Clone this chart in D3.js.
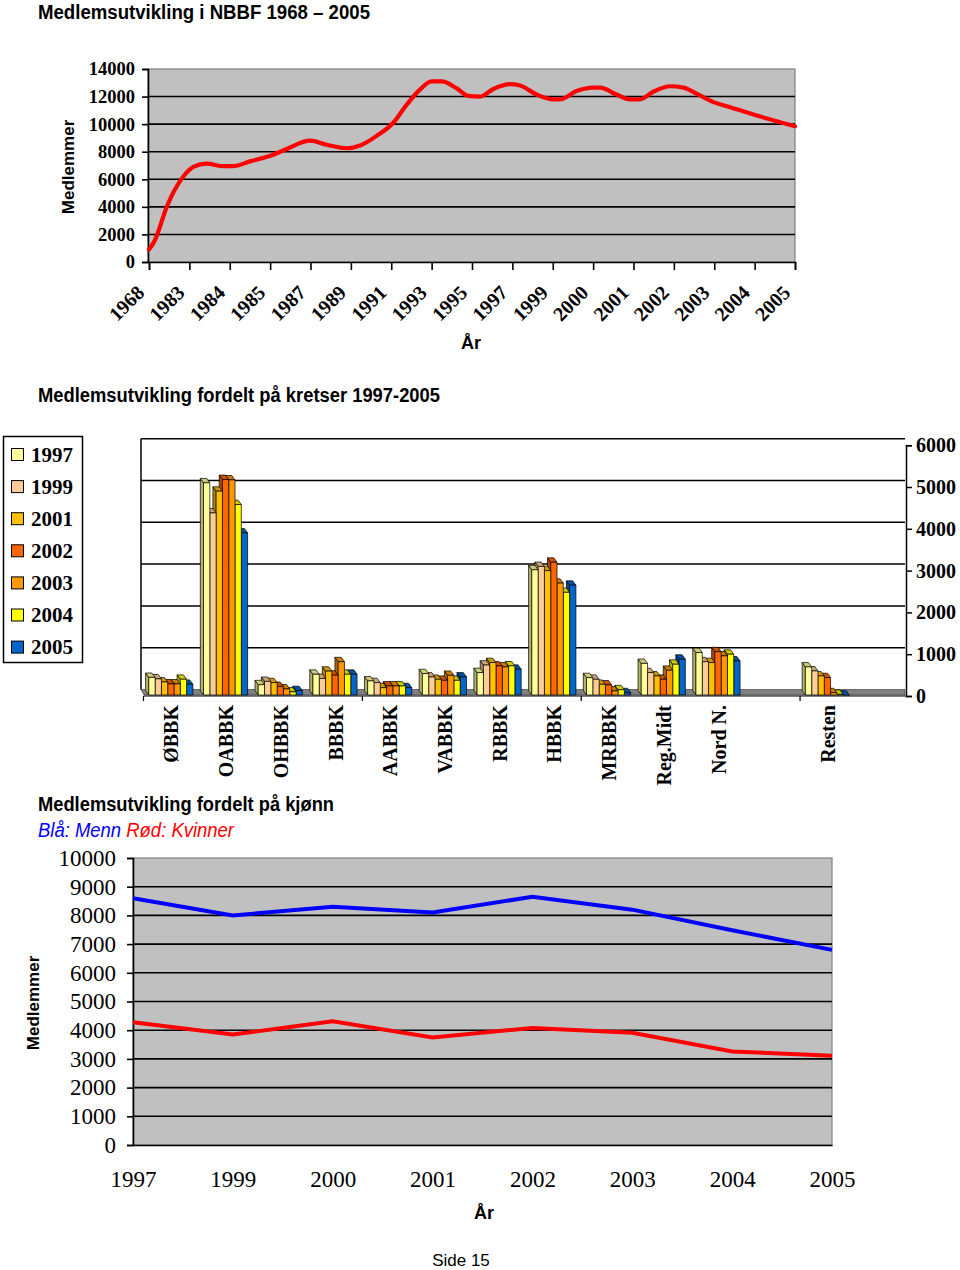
<!DOCTYPE html>
<html><head><meta charset="utf-8">
<script src="https://cdn.jsdelivr.net/npm/d3@7"></script>
<style>body{margin:0;background:#fff} svg{display:block}</style>
</head><body>
<svg id="c" width="960" height="1270"></svg>
<script>
// ---------------- DATA ----------------
// Chart 1: membership 1968-2005 (positions in label units along the category axis)
const nbbfLabels = ["1968","1983","1984","1985","1987","1989","1991","1993","1995","1997","1999","2000","2001","2002","2003","2004","2005"];
const nbbfPos = [0,0.15,0.44,0.85,1.1,1.43,1.84,2.08,2.5,3.0,3.41,3.99,4.4,4.9,5.23,5.64,6.05,6.38,6.71,7.0,7.25,7.62,7.91,8.2,8.53,8.94,9.19,9.6,10.01,10.18,10.59,11.0,11.17,11.58,11.91,12.16,12.49,12.91,13.24,13.57,13.98,14.31,15.14,16];
const nbbfVal = [900,1600,4000,6200,6900,7130,6950,6950,7300,7700,8200,8800,8500,8250,8450,9150,10100,11400,12500,13100,13100,12600,12050,12000,12550,12900,12800,12150,11800,11800,12400,12650,12650,12150,11800,11800,12350,12750,12650,12200,11600,11300,10550,9850];
const nbbfTicks = [0,2000,4000,6000,8000,10000,12000,14000];

// Chart 2: by district 1997-2005
const kretser = ["ØBBK","OABBK","OHBBK","BBBK","AABBK","VABBK","RBBK","HBBK","MRBBK","Reg.Midt","Nord N.","","Resten",""];
const kretsYears = ["1997","1999","2001","2002","2003","2004","2005"];
const k1997 = [445,5100,270,520,360,535,560,3020,440,780,1040,null,695,null];
const k1999 = [410,4380,350,420,320,455,740,3100,400,560,820,null,600,null];
const k2001 = [335,4900,320,595,200,400,800,3000,280,480,800,null,480,null];
const k2002 = [290,5180,230,500,240,375,720,3200,265,400,1060,null,440,null];
const k2003 = [290,5170,170,820,240,495,695,2700,120,615,960,null,80,null];
const k2004 = [400,4580,100,520,240,375,720,2480,150,760,1000,null,40,null];
const k2005 = [280,3900,130,520,200,455,640,2650,80,880,840,null,20,null];
const kretsColors = ["#FFFF99","#FFCC99","#FFC000","#FF6600","#FF9900","#FFFF00","#0066CC"];
const kretsTicks = [0,1000,2000,3000,4000,5000,6000];

// Chart 3: by gender
const kjonnYears = ["1997","1999","2000","2001","2002","2003","2004","2005"];
const menn = [8600,8000,8300,8100,8650,8200,7480,6800];
const kvinner = [4280,3850,4310,3750,4080,3910,3260,3110];
const kjonnTicks = [0,1000,2000,3000,4000,5000,6000,7000,8000,9000,10000];

// ---------------- STYLE ----------------
const SANS = "'Liberation Sans', Arial, sans-serif";
const NARROW = "'Liberation Sans Narrow', 'Arial Narrow', 'Liberation Sans', Arial, sans-serif";
const SERIF = "'Liberation Serif', 'Times New Roman', serif";
const svg = d3.select("#c");

function title(txt, x, y, len) {
  svg.append("text").attr("x", x).attr("y", y).attr("font-family", NARROW)
    .attr("font-weight", "bold").attr("font-size", 20).attr("fill", "#000")
    .attr("textLength", len).attr("lengthAdjust", "spacingAndGlyphs").text(txt);
}

// ================= CHART 1 =================
title("Medlemsutvikling i NBBF  1968 \u2013 2005", 38, 19, 332);
{
  const L = 148, R = 795, T = 69, B = 262;
  const x = d3.scaleLinear().domain([0, nbbfLabels.length - 1]).range([L + 1, R]);
  const y = d3.scaleLinear().domain([0, 14000]).range([B, T]);
  const g = svg.append("g");
  g.append("rect").attr("x", L).attr("y", T).attr("width", R - L).attr("height", B - T)
    .attr("fill", "#C0C0C0").attr("stroke", "#808080").attr("stroke-width", 1.2);
  g.selectAll("line.grid").data(nbbfTicks.filter(t => t > 0 && t < 14000)).join("line")
    .attr("x1", L).attr("x2", R).attr("y1", d => y(d)).attr("y2", d => y(d))
    .attr("stroke", "#000").attr("stroke-width", 1.6);
  // y axis
  const ya = d3.axisLeft(y).tickValues(nbbfTicks).tickSize(6).tickPadding(7).tickFormat(d3.format("d"));
  const yg = g.append("g").attr("transform", `translate(${L},0)`).call(ya);
  yg.select(".domain").attr("stroke", "#000").attr("stroke-width", 1.6);
  yg.selectAll(".tick line").attr("stroke", "#000").attr("stroke-width", 1.6);
  yg.selectAll("text").attr("font-family", SERIF).attr("font-weight", "bold").attr("font-size", 18.5).attr("fill", "#000");
  // x axis
  const xa = d3.axisBottom(x).tickValues(d3.range(nbbfLabels.length)).tickSize(8).tickFormat(i => nbbfLabels[i]);
  const xg = g.append("g").attr("transform", `translate(0,${B})`).call(xa);
  xg.select(".domain").attr("stroke", "#000").attr("stroke-width", 1.6);
  xg.selectAll(".tick line").attr("stroke", "#000").attr("stroke-width", 1.6);
  xg.selectAll("text").attr("font-family", SERIF).attr("font-weight", "bold").attr("font-size", 20).attr("fill", "#000")
    .attr("text-anchor", "end").attr("dy", "0.35em").attr("y", 0)
    .attr("transform", "translate(-9,27) rotate(-45)");
  // line
  const pts = nbbfPos.map((p, i) => [p, nbbfVal[i]]);
  g.append("path").datum(pts).attr("fill", "none").attr("stroke", "#FF0000").attr("stroke-width", 4.2)
    .attr("stroke-linejoin", "round").attr("stroke-linecap", "round")
    .attr("d", d3.line().x(d => x(d[0])).y(d => y(d[1])).curve(d3.curveMonotoneX));
  g.append("text").attr("transform", `translate(74,167) rotate(-90)`).attr("text-anchor", "middle")
    .attr("font-family", SANS).attr("font-weight", "bold").attr("font-size", 17).text("Medlemmer");
  g.append("text").attr("x", 471).attr("y", 349).attr("text-anchor", "middle")
    .attr("font-family", SANS).attr("font-weight", "bold").attr("font-size", 18).text("År");
}

// ================= CHART 2 =================
title("Medlemsutvikling fordelt på kretser 1997-2005", 38, 402, 402);
{
  const L = 141, R = 907, F = 695; // front baseline
  const back = 5.5;                 // back-wall vertical offset
  const band = d3.scaleBand().domain(d3.range(kretser.length)).range([L, R]).padding(0);
  const yF = d3.scaleLinear().domain([0, 6000]).range([F + 1, F + 1 - 6 * 41.8]);
  const yB = v => yF(v) - back - 1;
  const g = svg.append("g");
  // back wall
  g.selectAll("line.grid").data(kretsTicks.filter(t => t > 0)).join("line")
    .attr("x1", L).attr("x2", R - 2).attr("y1", d => yB(d)).attr("y2", d => yB(d))
    .attr("stroke", "#000").attr("stroke-width", 1.5);
  g.append("line").attr("x1", L).attr("x2", L).attr("y1", yB(6000)).attr("y2", yB(0))
    .attr("stroke", "#000").attr("stroke-width", 1.5);
  // floor
  g.append("polygon").attr("points", `${L},${yB(0)} ${R - 2},${yB(0)} ${R - 2},${F} ${L + 3},${F}`)
    .attr("fill", "#808080").attr("stroke", "#333").attr("stroke-width", 0.6);
  // right axis
  const ra = d3.axisRight(yF).tickValues(kretsTicks).tickSize(6).tickPadding(4).tickFormat(d3.format("d"));
  const rg = g.append("g").attr("transform", `translate(${R - 1},0)`).call(ra);
  rg.select(".domain").attr("stroke", "#000").attr("stroke-width", 1.5);
  rg.selectAll(".tick line").attr("stroke", "#000").attr("stroke-width", 1.5);
  rg.selectAll("text").attr("font-family", SERIF).attr("font-weight", "bold").attr("font-size", 20).attr("fill", "#000");
  // bottom axis line + ticks every 4 categories
  g.append("line").attr("x1", L + 2.5).attr("x2", R - 1).attr("y1", F + 1).attr("y2", F + 1)
    .attr("stroke", "#000").attr("stroke-width", 1.2);
  g.selectAll("line.xt").data(d3.range(0, kretser.length, 4)).join("line")
    .attr("x1", d => band(d) + 2.5).attr("x2", d => band(d) + 2.5).attr("y1", F + 1).attr("y2", F + 6)
    .attr("stroke", "#000").attr("stroke-width", 1.2);
  // bars
  const series = [k1997, k1999, k2001, k2002, k2003, k2004, k2005];
  const bw = 6.3, dx = -3.2, dy = -4.4;
  const inner = d3.scaleBand().domain(d3.range(series.length)).range([0, bw * series.length]).padding(0);
  kretser.forEach((cat, ci) => {
    const cx = band(ci) + band.bandwidth() / 2 + 2.5 - bw * series.length / 2;
    for (let si = series.length - 1; si >= 0; si--) {
      const v = series[si][ci];
      if (v == null) continue;
      const x0 = cx + inner(si), yT = yF(v), yb = F;
      const col = d3.color(kretsColors[si]);
      const topC = col.darker(0.62).formatHex(), sideC = col.darker(1.0).formatHex();
      const bg = g.append("g").attr("stroke", "#000").attr("stroke-width", 0.7).attr("stroke-linejoin", "round");
      bg.append("polygon").attr("fill", sideC)
        .attr("points", `${x0},${yb} ${x0},${yT} ${x0 + dx},${yT + dy} ${x0 + dx},${yb + dy}`);
      bg.append("polygon").attr("fill", topC)
        .attr("points", `${x0},${yT} ${x0 + bw},${yT} ${x0 + bw + dx},${yT + dy} ${x0 + dx},${yT + dy}`);
      bg.append("rect").attr("x", x0).attr("y", yT).attr("width", bw).attr("height", yb - yT).attr("fill", col.formatHex());
    }
  });
  // category labels
  g.selectAll("text.cat").data(kretser.map((c, i) => ({ c, i })).filter(d => d.c)).join("text")
    .attr("transform", d => `translate(${band(d.i) + band.bandwidth() / 2 + 3},705) rotate(-90)`)
    .attr("text-anchor", "end").attr("dy", "0.35em")
    .attr("font-family", SERIF).attr("font-weight", "bold").attr("font-size", 20).text(d => d.c);
  // legend
  const lg = svg.append("g");
  lg.append("rect").attr("x", 3.5).attr("y", 436.5).attr("width", 79).attr("height", 226)
    .attr("fill", "#fff").attr("stroke", "#000").attr("stroke-width", 1.5);
  kretsYears.forEach((yr, i) => {
    const cy = 454.5 + i * 32.1;
    lg.append("rect").attr("x", 11.5).attr("y", cy - 6).attr("width", 12).attr("height", 12)
      .attr("fill", kretsColors[i]).attr("stroke", "#000").attr("stroke-width", 1);
    lg.append("text").attr("x", 31).attr("y", cy).attr("dy", "0.35em")
      .attr("font-family", SERIF).attr("font-weight", "bold").attr("font-size", 21).text(yr);
  });
}

// ================= CHART 3 =================
title("Medlemsutvikling fordelt på kjønn", 38, 811, 296);
{
  const st = svg.append("text").attr("x", 38).attr("y", 837).attr("font-family", NARROW)
    .attr("font-style", "italic").attr("font-size", 20).attr("textLength", 196).attr("lengthAdjust", "spacingAndGlyphs");
  st.append("tspan").attr("fill", "#0000FF").text("Blå: Menn ");
  st.append("tspan").attr("fill", "#FF0000").text("Rød: Kvinner");

  const L = 133, R = 832, T = 858, B = 1145;
  const x = d3.scalePoint().domain(kjonnYears).range([L, R]);
  const y = d3.scaleLinear().domain([0, 10000]).range([B, T]);
  const g = svg.append("g");
  g.append("rect").attr("x", L).attr("y", T).attr("width", R - L).attr("height", B - T)
    .attr("fill", "#C0C0C0").attr("stroke", "#808080").attr("stroke-width", 1.2);
  g.selectAll("line.grid").data(kjonnTicks.filter(t => t > 0 && t < 10000)).join("line")
    .attr("x1", L).attr("x2", R).attr("y1", d => y(d)).attr("y2", d => y(d))
    .attr("stroke", "#000").attr("stroke-width", 1.6);
  const ya = d3.axisLeft(y).tickValues(kjonnTicks).tickSize(6).tickPadding(11).tickFormat(d3.format("d"));
  const yg = g.append("g").attr("transform", `translate(${L},0)`).call(ya);
  yg.select(".domain").attr("stroke", "#000").attr("stroke-width", 1.6);
  yg.selectAll(".tick line").attr("stroke", "#000").attr("stroke-width", 1.6);
  yg.selectAll("text").attr("font-family", SERIF).attr("font-size", 23).attr("fill", "#000");
  const xa = d3.axisBottom(x).tickSize(0).tickPadding(26);
  const xg = g.append("g").attr("transform", `translate(0,${B})`).call(xa);
  xg.select(".domain").attr("stroke", "#000").attr("stroke-width", 1.6);
  xg.selectAll("text").attr("font-family", SERIF).attr("font-size", 23).attr("fill", "#000");
  const line = d3.line().x((d, i) => x(kjonnYears[i])).y(d => y(d));
  g.append("path").datum(menn).attr("fill", "none").attr("stroke", "#0000FF").attr("stroke-width", 4).attr("d", line);
  g.append("path").datum(kvinner).attr("fill", "none").attr("stroke", "#FF0000").attr("stroke-width", 4).attr("d", line);
  g.append("text").attr("transform", `translate(39,1003) rotate(-90)`).attr("text-anchor", "middle")
    .attr("font-family", SANS).attr("font-weight", "bold").attr("font-size", 17).text("Medlemmer");
  g.append("text").attr("x", 484).attr("y", 1219).attr("text-anchor", "middle")
    .attr("font-family", SANS).attr("font-weight", "bold").attr("font-size", 18).text("År");
}
svg.append("text").attr("x", 461).attr("y", 1266).attr("text-anchor", "middle")
  .attr("font-family", SANS).attr("font-size", 17).text("Side 15");
</script>
</body></html>
